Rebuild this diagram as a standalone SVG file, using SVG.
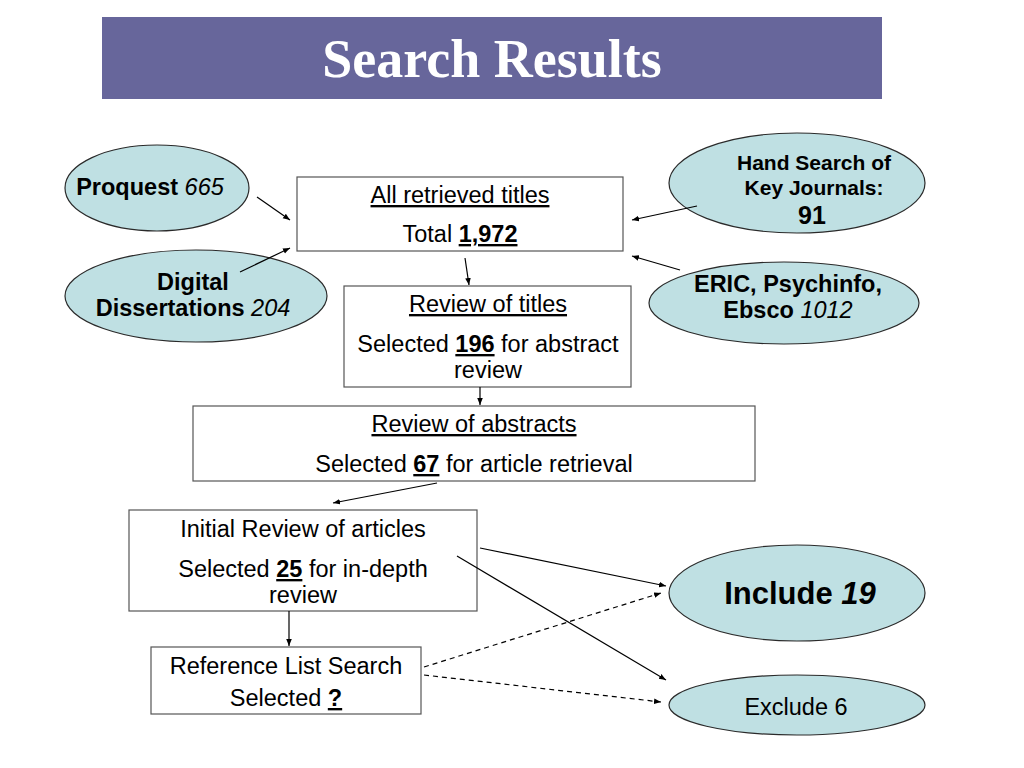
<svg xmlns="http://www.w3.org/2000/svg" width="1024" height="768" viewBox="0 0 1024 768">
<defs>
<marker id="ah" viewBox="0 0 10 10" refX="10" refY="5" markerWidth="7" markerHeight="7" orient="auto" markerUnits="userSpaceOnUse">
<path d="M0,1 L10,5 L0,9 Z" fill="#000"/>
</marker>
<style>
.box{fill:#fff;stroke:#555;stroke-width:1.2}
.ell{fill:#BFE0E3;stroke:#2a2a2a;stroke-width:1.2}
.t{font-family:"Liberation Sans",Arial,sans-serif;font-size:23.5px;fill:#000;text-anchor:middle}
.eb{font-family:"Liberation Sans",Arial,sans-serif;font-weight:bold;fill:#000;text-anchor:middle}
.c{stroke:#000;stroke-width:1.2;fill:none;marker-end:url(#ah)}
.d{stroke-dasharray:5,4}
</style>
</defs>
<rect width="1024" height="768" fill="#fff"/>
<g id="title">
<rect x="102" y="17" width="780" height="82" fill="#67669B"/>
<text x="492" y="77" font-family="'Liberation Serif','Times New Roman',serif" font-weight="bold" font-size="54" fill="#fff" text-anchor="middle">Search Results</text>
</g>
<g id="proquest">
<ellipse class="ell" cx="157" cy="188" rx="92" ry="43"/>
<text class="eb" x="150" y="195" font-size="23.5">Proquest <tspan font-style="italic" font-weight="normal">665</tspan></text>
</g>
<g id="digital">
<ellipse class="ell" cx="196" cy="296" rx="131" ry="46"/>
<text class="eb" x="193" y="290" font-size="23.5">Digital</text>
<text class="eb" x="193" y="316" font-size="23.5">Dissertations <tspan font-style="italic" font-weight="normal">204</tspan></text>
</g>
<g id="hand">
<ellipse class="ell" cx="797" cy="183" rx="128" ry="50"/>
<text class="eb" x="814" y="170" font-size="21">Hand Search of</text>
<text class="eb" x="814" y="195" font-size="21">Key Journals:</text>
<text class="eb" x="812" y="224" font-size="25">91</text>
</g>
<g id="eric">
<ellipse class="ell" cx="784" cy="303" rx="135" ry="41"/>
<text class="eb" x="788" y="292" font-size="23.5">ERIC, Psychinfo,</text>
<text class="eb" x="788" y="318" font-size="23.5">Ebsco <tspan font-style="italic" font-weight="normal">1012</tspan></text>
</g>
<g id="all">
<rect class="box" x="297" y="177" width="326" height="74"/>
<text class="t" x="460" y="203" text-decoration="underline">All retrieved titles</text>
<text class="t" x="460" y="242">Total <tspan font-weight="bold" text-decoration="underline">1,972</tspan></text>
</g>
<g id="titles">
<rect class="box" x="344" y="286" width="287" height="101"/>
<text class="t" x="488" y="312" text-decoration="underline">Review of titles</text>
<text class="t" x="488" y="352">Selected <tspan font-weight="bold" text-decoration="underline">196</tspan> for abstract</text>
<text class="t" x="488" y="378">review</text>
</g>
<g id="abstracts">
<rect class="box" x="193" y="406" width="562" height="75"/>
<text class="t" x="474" y="432" text-decoration="underline">Review of abstracts</text>
<text class="t" x="474" y="472">Selected <tspan font-weight="bold" text-decoration="underline">67</tspan> for article retrieval</text>
</g>
<g id="initial">
<rect class="box" x="129" y="510" width="348" height="101"/>
<text class="t" x="303" y="537">Initial Review of articles</text>
<text class="t" x="303" y="577">Selected <tspan font-weight="bold" text-decoration="underline">25</tspan> for in-depth</text>
<text class="t" x="303" y="603">review</text>
</g>
<g id="reference">
<rect class="box" x="151" y="647" width="270" height="67"/>
<text class="t" x="286" y="674">Reference List Search</text>
<text class="t" x="286" y="706">Selected <tspan font-weight="bold" text-decoration="underline">?</tspan></text>
</g>
<g id="include">
<ellipse class="ell" cx="797" cy="593" rx="128" ry="48"/>
<text class="eb" x="800" y="604" font-size="31">Include <tspan font-style="italic">19</tspan></text>
</g>
<g id="exclude">
<ellipse class="ell" cx="797" cy="705" rx="128" ry="30"/>
<text class="t" x="796" y="715" font-size="27">Exclude 6</text>
</g>
<g id="connectors">
<line class="c" x1="257" y1="197" x2="290" y2="220"/>
<line class="c" x1="240" y1="272" x2="290" y2="248"/>
<line class="c" x1="697" y1="206" x2="632" y2="220"/>
<line class="c" x1="680" y1="270" x2="632" y2="256"/>
<line class="c" x1="465" y1="258" x2="469" y2="285"/>
<line class="c" x1="480" y1="387" x2="480" y2="405"/>
<line class="c" x1="437" y1="483" x2="333" y2="503"/>
<line class="c" x1="480" y1="548" x2="666" y2="586"/>
<line class="c" x1="457" y1="556" x2="666" y2="680"/>
<line class="c" x1="289" y1="611" x2="289" y2="646"/>
<line class="c d" x1="424" y1="667" x2="661" y2="593"/>
<line class="c d" x1="424" y1="675" x2="661" y2="702"/>
</g>
</svg>
